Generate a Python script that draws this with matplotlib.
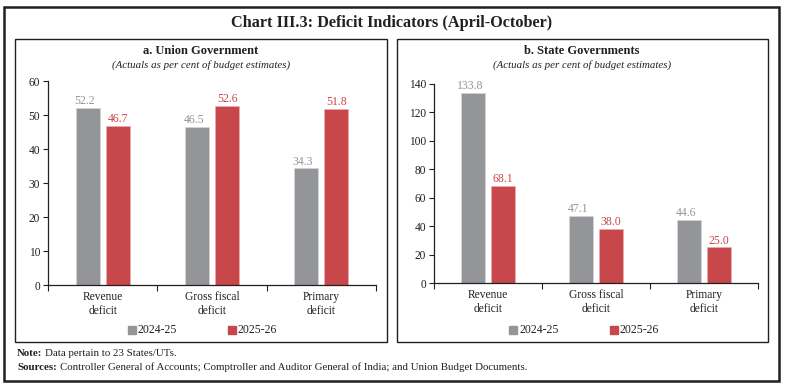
import matplotlib
matplotlib.use("Agg")
import matplotlib.pyplot as plt
from matplotlib.patches import Rectangle

categories = ["Revenue\ndeficit", "Gross fiscal\ndeficit", "Primary\ndeficit"]
series_names = ["2024-25", "2025-26"]
union_2024 = [52.2, 46.5, 34.3]
union_2025 = [46.7, 52.6, 51.8]
state_2024 = [133.8, 47.1, 44.6]
state_2025 = [68.1, 38.0, 25.0]
union_yticks = [0, 10, 20, 30, 40, 50, 60]
state_yticks = [0, 20, 40, 60, 80, 100, 120, 140]

GRAY = "#939598"
RED = "#C8474A"
TXT = "#231F20"
FONT = "Liberation Serif"
plt.rcParams['font.family'] = [FONT, 'DejaVu Serif']

W, H = 785, 388
fig = plt.figure(figsize=(W / 100, H / 100), dpi=100)


def px_rect(x0, y0, x1, y1):
    return [x0 / W, 1 - y1 / H, (x1 - x0) / W, (y1 - y0) / H]


def fx(x):
    return x / W


def fy(y):
    return 1 - y / H


# frames
fig.patches.append(Rectangle((fx(4), fy(381)), fx(779) - fx(4), fy(7) - fy(381),
                             transform=fig.transFigure, fill=False, lw=1.8, ec=TXT))
fig.patches.append(Rectangle((fx(15), fy(342)), fx(387) - fx(15), fy(39) - fy(342),
                             transform=fig.transFigure, fill=False, lw=1.0, ec=TXT))
fig.patches.append(Rectangle((fx(397), fy(342)), fx(768) - fx(397), fy(39) - fy(342),
                             transform=fig.transFigure, fill=False, lw=1.0, ec=TXT))

fig.text(fx(392), fy(23), "Chart III.3: Deficit Indicators (April-October)",
         ha="center", va="center", fontsize=11.7, fontweight="bold", color=TXT)


def panel(rect, vals_a, vals_b, yticks, title, cx, leg_x):
    ax = fig.add_axes(rect)
    n = len(categories)
    xs = list(range(n))
    bw = 0.22
    off = 0.138
    ax.bar([x - off for x in xs], vals_a, bw, color=GRAY, edgecolor="#d8d8d8", lw=0.4)
    ax.bar([x + off for x in xs], vals_b, bw, color=RED, edgecolor="#e8b0b0", lw=0.4)
    top = yticks[-1]
    for x, v in zip(xs, vals_a):
        ax.text(x - off - 0.03, v + top * 0.004, f"{v:.1f}", ha="center", va="bottom",
                fontsize=8.5, color=GRAY)
    for x, v in zip(xs, vals_b):
        ax.text(x + off, v + top * 0.004, f"{v:.1f}", ha="center", va="bottom",
                fontsize=8.5, color=RED)
    ax.set_xlim(-0.5, n - 0.5)
    ax.set_ylim(0, top)
    ax.set_yticks(yticks)
    ax.set_yticklabels([str(t) for t in yticks], fontsize=8.3, color=TXT)
    ax.set_xticks([i - 0.5 for i in range(n + 1)])
    ax.set_xticklabels([])
    ax.set_xticks(xs, minor=True)
    ax.set_xticklabels(categories, minor=True, fontsize=8.3, color=TXT, linespacing=1.25)
    ax.tick_params(axis="x", which="minor", length=0, pad=4)
    ax.tick_params(axis="x", which="major", length=4, width=0.8, color=TXT)
    ax.tick_params(axis="y", length=3.5, width=0.8, color=TXT, pad=2)
    for s in ["top", "right"]:
        ax.spines[s].set_visible(False)
    for s in ["left", "bottom"]:
        ax.spines[s].set_color(TXT)
        ax.spines[s].set_linewidth(0.9)
    fig.text(fx(cx), fy(51), title, ha="center", va="center", fontsize=9,
             fontweight="bold", color=TXT)
    fig.text(fx(cx), fy(65), "(Actuals as per cent of budget estimates)", ha="center",
             va="center", fontsize=7.8, style="italic", color=TXT)
    # legend
    for i, (name, col) in enumerate(zip(series_names, [GRAY, RED])):
        x0 = leg_x[i]
        fig.patches.append(Rectangle((fx(x0), fy(334)), fx(8), 8 / H,
                                     transform=fig.transFigure, color=col))
        fig.text(fx(x0 + 10), fy(330), name, ha="left", va="center", fontsize=8.5,
                 color=TXT)
    return ax


panel(px_rect(48, 81, 376, 285), union_2024, union_2025, union_yticks,
      "a. Union Government", 201, [128, 228])
panel(px_rect(434, 84, 758, 283), state_2024, state_2025, state_yticks,
      "b. State Governments", 582, [509, 610])

fig.text(fx(17), fy(354), "Note:", ha="left", va="center", fontsize=7.8,
         color=TXT, fontweight="bold")
fig.text(fx(45), fy(354), "Data pertain to 23 States/UTs.", ha="left",
         va="center", fontsize=7.8, color=TXT)
fig.text(fx(17), fy(367), "Sources:", ha="left", va="center", fontsize=7.8,
         color=TXT, fontweight="bold")
fig.text(fx(60), fy(367),
         "Controller General of Accounts; Comptroller and Auditor General of India; and Union Budget Documents.",
         ha="left", va="center", fontsize=7.8, color=TXT)

fig.savefig("out.png", dpi=100)
